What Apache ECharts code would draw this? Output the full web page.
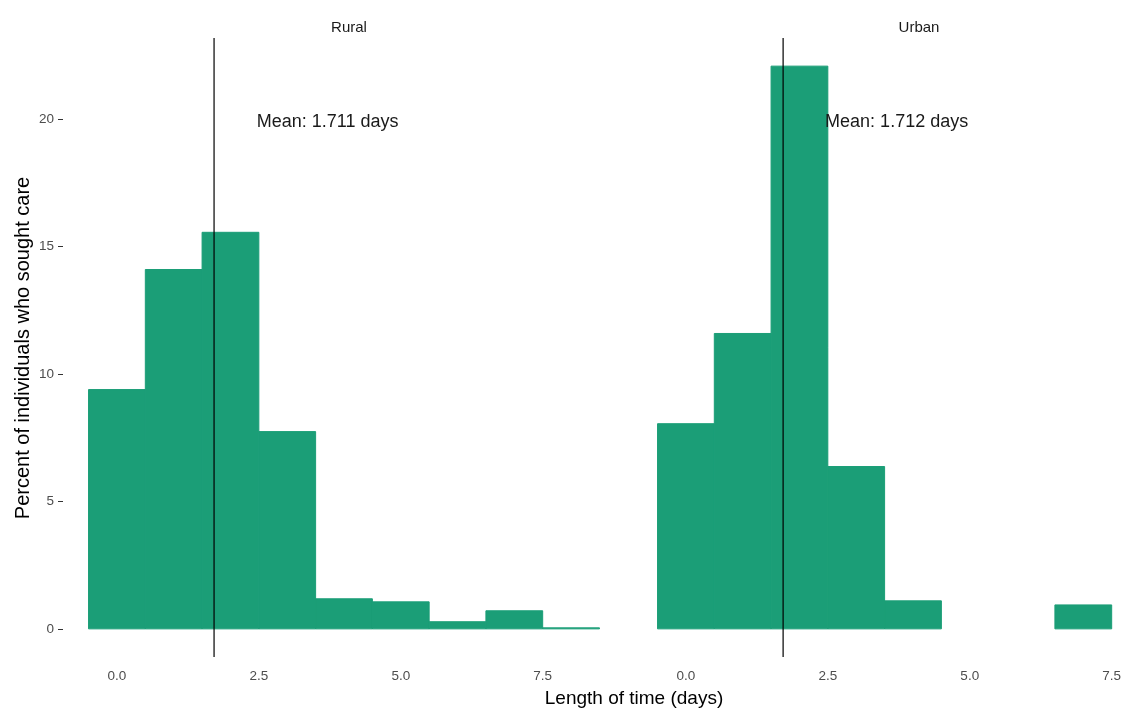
<!DOCTYPE html>
<html>
<head>
<meta charset="utf-8">
<script src="https://cdn.jsdelivr.net/npm/echarts@6/dist/echarts.min.js"></script>
<style>html,body{margin:0;padding:0;background:#fff;}#c{width:1127px;height:711px;}</style>
</head>
<body>
<div id="c"></div>
<script>
// Data
const binCenters = [0, 1, 2, 3, 4, 5, 6, 7, 8];
const ruralPct = [9.39, 14.1, 15.56, 7.74, 1.18, 1.06, 0.28, 0.71, 0.04];
const urbanPct = [8.05, 11.59, 22.08, 6.37, 1.1, 0, 0, 0.94, 0];
const facetNames = ['Rural', 'Urban'];
const means = [1.711, 1.712];
const xTicks = [0, 2.5, 5, 7.5];
const yTicks = [0, 5, 10, 15, 20];
const binWidth = 1;

const yMin = -1.104, yMax = 23.184;
const xMin = -0.95;
const xMaxes = [8.95, 7.77]; // Urban panel is cut by the image's right edge
const fill = '#1B9E77';
const font = 'Liberation Sans, Arial, sans-serif';

function histData(vals) { return binCenters.map((c, i) => [c, vals[i]]).filter(d => d[1] > 0); }

function renderBar(params, api) {
  const x = api.value(0), y = api.value(1);
  const p0 = api.coord([x - binWidth / 2, 0]);
  const p1 = api.coord([x + binWidth / 2, y]);
  return { type: 'rect', shape: { x: p0[0], y: p1[1], width: p1[0] - p0[0], height: Math.max(p0[1] - p1[1], 1) }, style: { fill: fill, stroke: fill, lineWidth: 1 } };
}

function renderLabel(params, api) {
  const p = api.coord([api.value(0), api.value(1)]);
  return { type: 'text', x: p[0], y: p[1] + 3, style: { text: 'Mean: ' + api.value(2).toFixed(3) + ' days', fill: '#1a1a1a', font: '18px ' + font, align: 'center', verticalAlign: 'middle' } };
}

const grids = [
  { left: 63, width: 562, top: 38, bottom: 54 },
  { left: 632, right: 0, top: 38, bottom: 54 }
];

const xAxes = grids.map((g, i) => ({
  type: 'value', gridIndex: i, min: xMin, max: xMaxes[i],
  axisLine: { show: false, onZero: false }, splitLine: { show: false },
  axisTick: { show: false },
  axisLabel: { customValues: xTicks, formatter: v => v.toFixed(1), color: '#4d4d4d', fontFamily: font, fontSize: 13.5, margin: 12, showMaxLabel: true }
}));
const yAxes = grids.map((g, i) => ({
  type: 'value', gridIndex: i, min: yMin, max: yMax, position: 'left',
  axisLine: { show: false, onZero: false }, splitLine: { show: false },
  axisTick: { show: i === 0, customValues: yTicks, length: 5, lineStyle: { color: '#333', width: 1 } },
  axisLabel: { show: i === 0, customValues: yTicks, color: '#4d4d4d', fontFamily: font, fontSize: 13.5, margin: 9 }
}));

const series = [];
[ruralPct, urbanPct].forEach((vals, i) => {
  series.push({ type: 'custom', xAxisIndex: i, yAxisIndex: i, renderItem: renderBar, data: histData(vals), clip: false, silent: true });
  series.push({ type: 'line', xAxisIndex: i, yAxisIndex: i, data: [[means[i], yMin], [means[i], yMax]], symbol: 'none', lineStyle: { color: '#000', width: 1.2 }, silent: true, z: 5 });
  series.push({ type: 'custom', xAxisIndex: i, yAxisIndex: i, renderItem: renderLabel, data: [[means[i] + 2, 20, means[i]]], clip: false, silent: true, z: 6 });
});

const option = {
  animation: false,
  backgroundColor: '#fff',
  grid: grids,
  xAxis: xAxes,
  yAxis: yAxes,
  title: [
    { text: facetNames[0], left: 344, top: 15, textAlign: 'center', textStyle: { fontFamily: font, fontSize: 15, fontWeight: 'normal', color: '#1a1a1a' } },
    { text: facetNames[1], left: 914, top: 15, textAlign: 'center', textStyle: { fontFamily: font, fontSize: 15, fontWeight: 'normal', color: '#1a1a1a' } },
    { text: 'Length of time (days)', left: 629, top: 684, textAlign: 'center', textStyle: { fontFamily: font, fontSize: 19, fontWeight: 'normal', color: '#000' } }
  ],
  graphic: [
    { type: 'text', x: 13, y: 348, rotation: Math.PI / 2, style: { text: 'Percent of individuals who sought care', font: '20px ' + font, fill: '#000', align: 'center', verticalAlign: 'top' } }
  ],
  series: series
};

const chart = echarts.init(document.getElementById('c'), null, { renderer: 'canvas' });
chart.setOption(option);
</script>
</body>
</html>
